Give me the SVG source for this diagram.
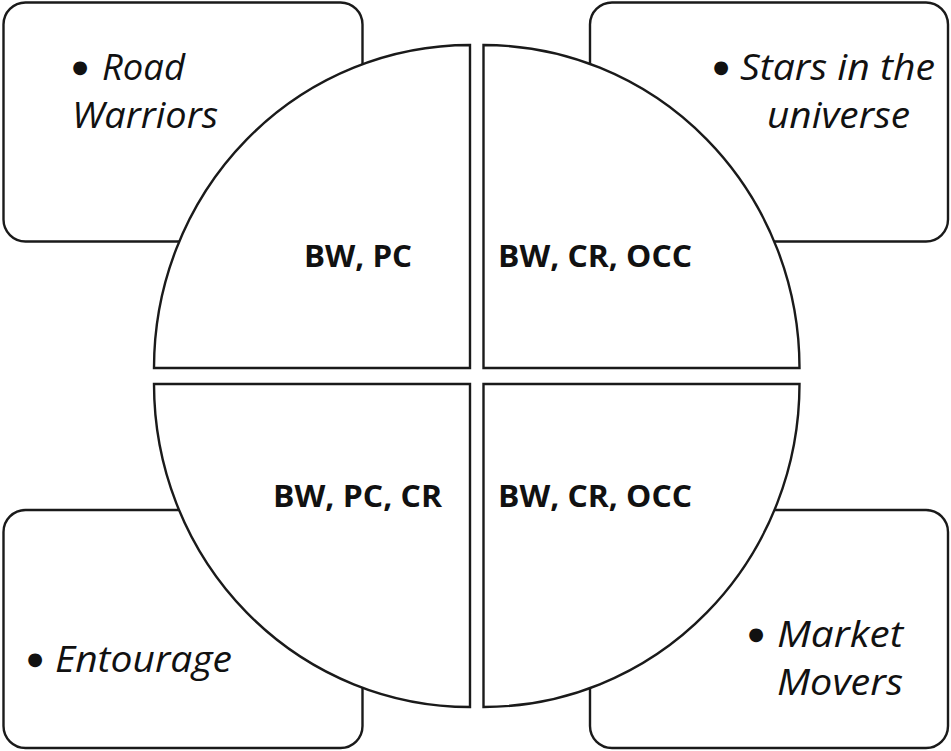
<svg xmlns="http://www.w3.org/2000/svg" width="951" height="751" viewBox="0 0 951 751">
<style>
.box{fill:#fff;stroke:#1a1a1a;stroke-width:2.4}
.wedge{fill:#fff;stroke:#1a1a1a;stroke-width:2.4}
.it{font-family:"Open Sans","DejaVu Sans",sans-serif;font-style:italic;font-size:36px;fill:#111}
.bul{font-family:"DejaVu Sans",sans-serif;font-size:18px;fill:#111;text-anchor:middle}
.bd{font-family:"Open Sans","DejaVu Sans",sans-serif;font-weight:bold;font-size:30px;fill:#111}
</style>
<rect width="951" height="751" fill="#fff"/>
<g id="box-road-warriors">
<rect class="box" x="3.5" y="2.5" width="359" height="239" rx="22"/>
<text class="bul" x="80" y="73">●</text>
<text class="it" x="102" y="80" textLength="83" lengthAdjust="spacingAndGlyphs">Road</text>
<text class="it" x="72" y="128" textLength="146" lengthAdjust="spacingAndGlyphs">Warriors</text>
</g>
<g id="box-stars">
<rect class="box" x="590" y="2.5" width="358" height="239" rx="22"/>
<text class="bul" x="721" y="73">●</text>
<text class="it" x="740" y="80" textLength="195" lengthAdjust="spacingAndGlyphs">Stars in the</text>
<text class="it" x="767" y="128" textLength="143" lengthAdjust="spacingAndGlyphs">universe</text>
</g>
<g id="box-entourage">
<rect class="box" x="3.5" y="510" width="359" height="238" rx="22"/>
<text class="bul" x="35" y="665">●</text>
<text class="it" x="55" y="672" textLength="177" lengthAdjust="spacingAndGlyphs">Entourage</text>
</g>
<g id="box-market-movers">
<rect class="box" x="590" y="510" width="358" height="238" rx="22"/>
<text class="bul" x="756" y="640">●</text>
<text class="it" x="777" y="647" textLength="126" lengthAdjust="spacingAndGlyphs">Market</text>
<text class="it" x="777" y="695" textLength="126" lengthAdjust="spacingAndGlyphs">Movers</text>
</g>
<g id="wedge-tl">
<path class="wedge" d="M470,368 L470,45 A316,323 0 0 0 154,368 Z"/>
<text class="bd" x="304" y="267" textLength="108" lengthAdjust="spacingAndGlyphs">BW, PC</text>
</g>
<g id="wedge-tr">
<path class="wedge" d="M483.5,368 L483.5,45 A316,323 0 0 1 799.5,368 Z"/>
<text class="bd" x="498" y="267" textLength="194" lengthAdjust="spacingAndGlyphs">BW, CR, OCC</text>
</g>
<g id="wedge-bl">
<path class="wedge" d="M470,384 L470,707 A316,323 0 0 1 154,384 Z"/>
<text class="bd" x="273" y="507" textLength="169" lengthAdjust="spacingAndGlyphs">BW, PC, CR</text>
</g>
<g id="wedge-br">
<path class="wedge" d="M483.5,384 L483.5,707 A316,323 0 0 0 799.5,384 Z"/>
<text class="bd" x="498" y="507" textLength="194" lengthAdjust="spacingAndGlyphs">BW, CR, OCC</text>
</g>
<g id="connectors"></g>
</svg>
